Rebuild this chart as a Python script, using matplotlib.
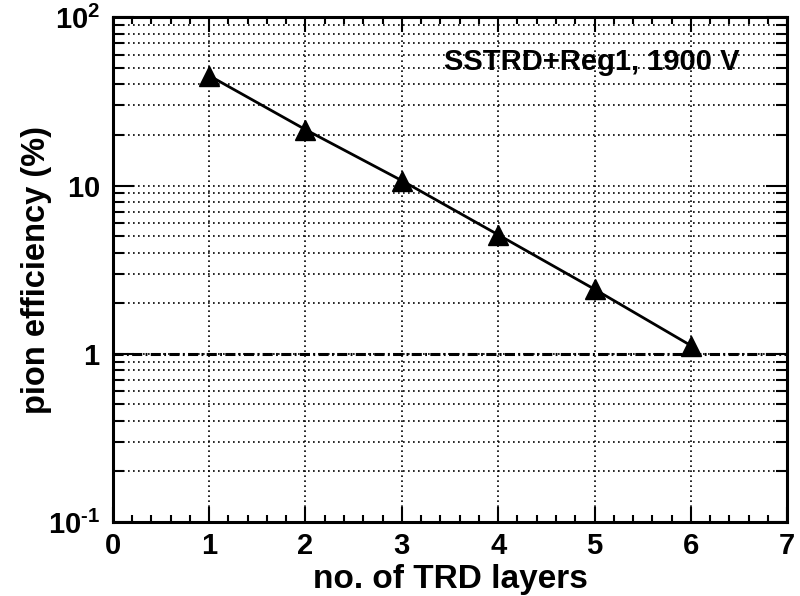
import numpy as np
import matplotlib
matplotlib.use('Agg')
import matplotlib.pyplot as plt
from matplotlib.ticker import FixedLocator, LogLocator, MultipleLocator, FuncFormatter

# data
layers = [1, 2, 3, 4, 5, 6]
pion_eff = [45.0, 21.5, 10.7, 5.1, 2.42, 1.12]
ref_level = 1.0
y_ticks = [0.1, 1, 10, 100]
y_labels = ['$10^{\u2010 1}$', '$1$', '$10$', '$10^{2}$']
label_text = 'SSTRD+Reg1, 1900 V'

plt.rcParams['font.family'] = ['Liberation Sans', 'DejaVu Sans']
plt.rcParams['font.weight'] = 'bold'
plt.rcParams['mathtext.fontset'] = 'custom'
plt.rcParams['mathtext.rm'] = 'Liberation Sans:bold'
plt.rcParams['mathtext.it'] = 'Liberation Sans:bold'
plt.rcParams['mathtext.bf'] = 'Liberation Sans:bold'

fig = plt.figure(figsize=(8, 5.96), dpi=100)
ax = fig.add_axes([0.141, 0.124, 0.843, 0.847])

ax.set_yscale('log')
ax.set_xlim(0, 7)
ax.set_ylim(0.1, 100)

# grid: x at majors only, y at all log subdivisions
ax.xaxis.set_major_locator(MultipleLocator(1))
ax.xaxis.set_minor_locator(MultipleLocator(0.2))
ax.yaxis.set_major_locator(FixedLocator(y_ticks))
ax.yaxis.set_minor_locator(LogLocator(base=10, subs=np.arange(2, 10)))
ax.yaxis.set_major_formatter(FuncFormatter(lambda v, p: y_labels[y_ticks.index(v)] if v in y_ticks else ''))
ax.yaxis.set_minor_formatter(FuncFormatter(lambda v, p: ''))

ax.grid(True, which='major', axis='x', color='black', linestyle=(0, (1, 2.0)), linewidth=1.2)
ax.grid(True, which='both', axis='y', color='black', linestyle=(0, (1, 2.0)), linewidth=1.2)

ax.axhline(ref_level, color='black', linewidth=2.2, dashes=(3.3, 1.1, 0.6, 1.1), zorder=3)
ax.plot(layers, pion_eff, color='black', linewidth=2.0, marker='^', markersize=14, zorder=4)

ax.tick_params(which='both', direction='in', top=True, right=True, width=1.5,
               labelsize=21)
ax.tick_params(axis='y', which='major', length=15, pad=9)
ax.tick_params(axis='y', which='minor', length=8)
ax.tick_params(axis='x', which='major', length=11, pad=7)
ax.tick_params(axis='x', which='minor', length=5)

for s in ax.spines.values():
    s.set_linewidth(2.2)

ax.set_xlabel('no. of TRD layers', fontsize=24, fontweight='bold', labelpad=3)
ax.set_ylabel('pion efficiency (%)', fontsize=23.5, fontweight='bold', labelpad=-3)

ax.text(0.930, 0.911, label_text, transform=ax.transAxes, ha='right', va='center',
        fontsize=21, fontweight='bold')

plt.savefig('out.png', dpi=100)
